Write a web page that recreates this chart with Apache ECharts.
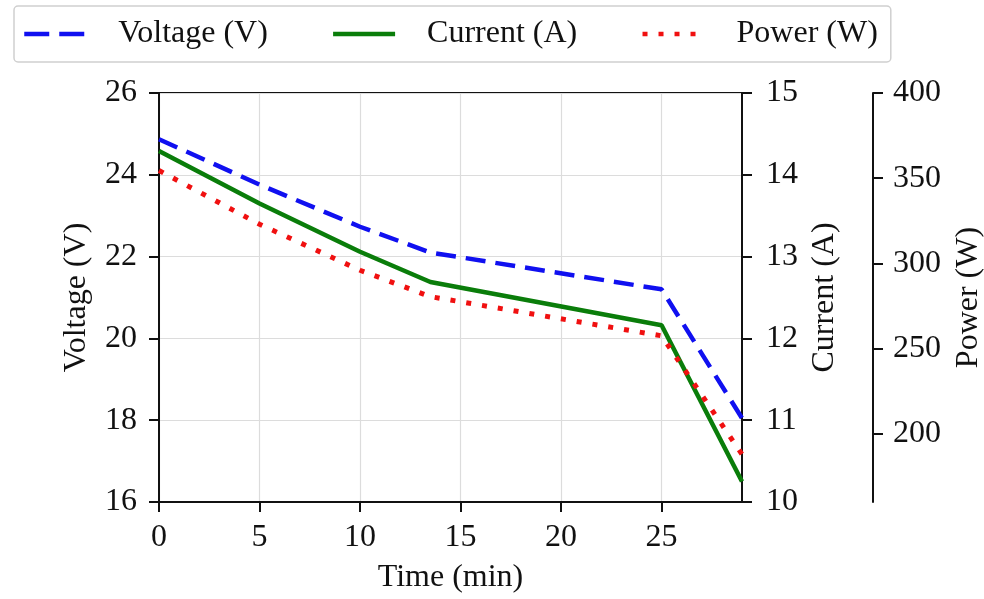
<!DOCTYPE html>
<html>
<head>
<meta charset="utf-8">
<script src="https://cdn.jsdelivr.net/npm/echarts@6/dist/echarts.min.js"></script>
<style>
html,body{margin:0;padding:0;background:#fff;}
#chart{width:984px;height:599px;}
</style>
</head>
<body>
<div id="chart"></div>
<script>
const time = [0, 5, 10, 13.5, 25, 29];
const voltage = [24.87, 23.76, 22.73, 22.1, 21.2, 18.05];
const current = [14.29, 13.65, 13.06, 12.69, 12.16, 10.25];
const power = [354.5, 323, 296, 280.5, 257.5, 188];
const xTicks = [0, 5, 10, 15, 20, 25];
const powerTicks = [200, 250, 300, 350, 400];

const FONT = 'Liberation Serif';
const FS = 32;
const AX = '#111';
const TXT = '#111';

function pairs(xs, ys) { return xs.map((x, i) => [x, ys[i]]); }

const chart = echarts.init(document.getElementById('chart'), null, {renderer: 'canvas'});
chart.setOption({
  animation: false,
  backgroundColor: '#fff',
  grid: {left: 159, right: 242, top: 93, bottom: 97, containLabel: false, outerBoundsMode: 'none',
         show: true, borderColor: AX, borderWidth: 2, backgroundColor: 'transparent'},
  legend: {
    left: 14, top: 6,
    padding: [12, 13, 12, 8],
    borderColor: '#cfcfcf', borderWidth: 1.5, borderRadius: 4,
    itemWidth: 62, itemHeight: 20, itemGap: 63,
    itemStyle: {opacity: 0},
    lineStyle: {width: 4.5},
    textStyle: {fontFamily: FONT, fontSize: FS, color: TXT, padding: [0, 0, 0, 27]},
    data: [
      {name: 'Voltage (V)', lineStyle: {width: 4.5, type: [25, 10]}},
      {name: 'Current (A)'},
      {name: 'Power (W)'}
    ]
  },
  xAxis: {
    type: 'value', min: 0, max: 29, interval: 5,
    name: 'Time (min)', nameLocation: 'middle', nameGap: 60,
    nameTextStyle: {fontFamily: FONT, fontSize: FS, color: TXT},
    axisLine: {lineStyle: {color: AX, width: 2}},
    axisTick: {show: true, length: 10, lineStyle: {color: AX, width: 2}, customValues: xTicks},
    axisLabel: {fontFamily: FONT, fontSize: FS, color: TXT, margin: 20, customValues: xTicks},
    splitLine: {show: true, lineStyle: {color: '#dcdcdc', width: 1.2}}
  },
  yAxis: [
    {
      type: 'value', position: 'left', min: 16, max: 26, interval: 2,
      name: 'Voltage (V)', nameLocation: 'middle', nameGap: 66,
      nameTextStyle: {fontFamily: FONT, fontSize: FS, color: TXT},
      axisLine: {show: true, lineStyle: {color: AX, width: 2}},
      axisTick: {show: true, length: 10, lineStyle: {color: AX, width: 2}},
      axisLabel: {fontFamily: FONT, fontSize: FS, color: TXT, margin: 22},
      splitLine: {show: true, lineStyle: {color: '#dcdcdc', width: 1.2}}
    },
    {
      type: 'value', position: 'right', min: 10, max: 15, interval: 1,
      name: 'Current (A)', nameLocation: 'middle', nameGap: 64,
      nameTextStyle: {fontFamily: FONT, fontSize: FS, color: TXT},
      axisLine: {show: true, lineStyle: {color: AX, width: 2}},
      axisTick: {show: true, length: 10, lineStyle: {color: AX, width: 2}},
      axisLabel: {fontFamily: FONT, fontSize: FS, color: TXT, margin: 24},
      splitLine: {show: false}
    },
    {
      type: 'value', position: 'right', offset: 131, min: 160, max: 400,
      name: 'Power (W)', nameLocation: 'middle', nameGap: 80,
      nameTextStyle: {fontFamily: FONT, fontSize: FS, color: TXT},
      axisLine: {show: true, lineStyle: {color: AX, width: 2}},
      axisTick: {show: true, length: 10, lineStyle: {color: AX, width: 2}, customValues: powerTicks},
      axisLabel: {fontFamily: FONT, fontSize: FS, color: TXT, margin: 20, customValues: powerTicks},
      splitLine: {show: false}
    }
  ],
  series: [
    {
      name: 'Voltage (V)', type: 'line', yAxisIndex: 0, data: pairs(time, voltage),
      symbol: 'none', showSymbol: false, z: 3,
      lineStyle: {color: '#1010f0', width: 4.5, type: [20, 10]},
      itemStyle: {color: '#1010f0'}
    },
    {
      name: 'Current (A)', type: 'line', yAxisIndex: 1, data: pairs(time, current),
      symbol: 'none', showSymbol: false, z: 4,
      lineStyle: {color: '#0a7d0a', width: 4.5},
      itemStyle: {color: '#0a7d0a'}
    },
    {
      name: 'Power (W)', type: 'line', yAxisIndex: 2, data: pairs(time, power),
      symbol: 'none', showSymbol: false, z: 5,
      lineStyle: {color: '#f01010', width: 5, type: [5, 11]},
      itemStyle: {color: '#f01010'}
    }
  ]
});
</script>
</body>
</html>
